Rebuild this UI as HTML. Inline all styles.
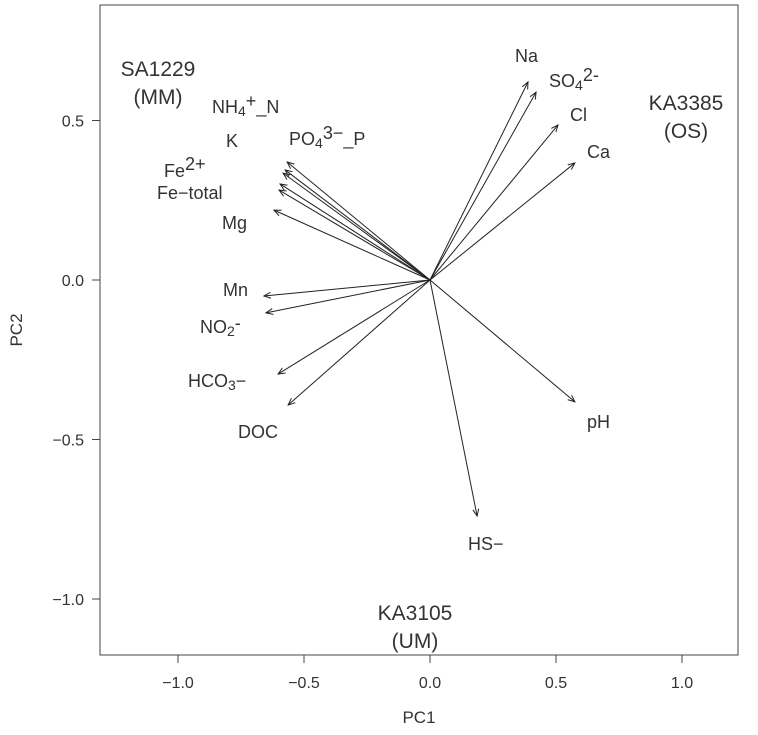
<!DOCTYPE html>
<html><head><meta charset="utf-8">
<style>
html,body{margin:0;padding:0;background:#fff;}
svg{display:block;font-family:"Liberation Sans",Arial,sans-serif;}
text{fill:#333;}
</style></head>
<body>
<svg id="chart" width="758" height="735" viewBox="0 0 758 735">
<defs><marker id="ah" markerWidth="8" markerHeight="8" refX="7" refY="4" orient="auto" markerUnits="userSpaceOnUse">
<path d="M0,1 L7,4 L0,7" fill="none" stroke="#222" stroke-width="1"/></marker></defs>
<rect x="100" y="5" width="638" height="650" fill="none" stroke="#444" stroke-width="1"/>
<g id="axes"></g>
<g id="arrows"></g>
<g id="labels"></g>
<text x="419" y="723" font-size="17" text-anchor="middle">PC1</text>
<text x="22" y="330" font-size="17" text-anchor="middle" transform="rotate(-90 22 330)">PC2</text>
<text font-size="21" text-anchor="middle"><tspan x="158" y="76">SA1229</tspan><tspan x="158" y="104">(MM)</tspan></text>
<text font-size="21" text-anchor="middle"><tspan x="686" y="110">KA3385</tspan><tspan x="686" y="138">(OS)</tspan></text>
<text font-size="21" text-anchor="middle"><tspan x="415" y="620">KA3105</tspan><tspan x="415" y="648">(UM)</tspan></text>
</svg>
<script>
const xTicks=[-1.0,-0.5,0.0,0.5,1.0];
const yTicks=[-1.0,-0.5,0.0,0.5];
const varNames=["Na","SO4","Cl","Ca","pH","HS","DOC","HCO3","NO2","Mn","Mg","FeTotal","Fe2","K","NH4","PO4"];
const pc1=[0.389,0.421,0.508,0.575,0.575,0.187,-0.563,-0.603,-0.651,-0.659,-0.619,-0.599,-0.595,-0.583,-0.575,-0.567];
const pc2=[0.621,0.589,0.486,0.367,-0.382,-0.740,-0.392,-0.295,-0.103,-0.050,0.219,0.282,0.301,0.335,0.345,0.370];
const labelHtml=["Na","SO<tspan font-size='14' dy='3'>4</tspan><tspan dy='-9'>2-</tspan>","Cl","Ca","pH","HS<tspan>\u2212</tspan>","DOC","HCO<tspan font-size='14' dy='3'>3</tspan><tspan dy='-3'>\u2212</tspan>","NO<tspan font-size='14' dy='3'>2</tspan><tspan dy='-7'>-</tspan>","Mn","Mg","Fe\u2212total","Fe<tspan dy='-7'>2+</tspan>","K","NH<tspan font-size='14' dy='3'>4</tspan><tspan dy='-9'>+</tspan><tspan dy='6'>_N</tspan>","PO<tspan font-size='14' dy='3'>4</tspan><tspan dy='-9'>3\u2212</tspan><tspan dy='6'>_P</tspan>"];
const labelPos=[[515,62],[549,87],[570,121],[587,158],[587,428],[468,550],[238,438],[188,387],[200,333],[223,296],[222,229],[157,199],[164,177],[226,147],[212,113],[289,145]];
const X=v=>430+v*252, Y=v=>280-v*319;
const ns="http://www.w3.org/2000/svg";
const ax=document.getElementById('axes');
function mk(t,a,p){const e=document.createElementNS(ns,t);for(const k in a)e.setAttribute(k,a[k]);p.appendChild(e);return e;}
xTicks.forEach(v=>{
 const l=mk('line',{x1:X(v),x2:X(v),y1:655,y2:663,stroke:'#444'},ax);
 
 
 const t=mk('text',{x:X(v),y:688,'font-size':16,'text-anchor':'middle'},ax);
 t.textContent=v.toFixed(1).replace('-','\u2212');
 
 
});
yTicks.forEach(v=>{
 const l=mk('line',{x1:92,x2:100,y1:Y(v),y2:Y(v),stroke:'#444'},ax);
 
 
 const t=mk('text',{x:84,y:Y(v)+6,'font-size':16,'text-anchor':'end'},ax);
 t.textContent=v.toFixed(1).replace('-','\u2212');
 
 
});
const ag=document.getElementById('arrows'), lg=document.getElementById('labels');
varNames.forEach((n,i)=>{
 const a=mk('line',{x1:X(0),y1:Y(0),x2:X(pc1[i]),y2:Y(pc2[i]),stroke:'#222','stroke-width':1,'marker-end':'url(#ah)'},ag);
 
 
 const t=mk('text',{x:labelPos[i][0],y:labelPos[i][1],'font-size':18},lg);
 t.innerHTML=labelHtml[i];
 
 
});
</script>
</body></html>
